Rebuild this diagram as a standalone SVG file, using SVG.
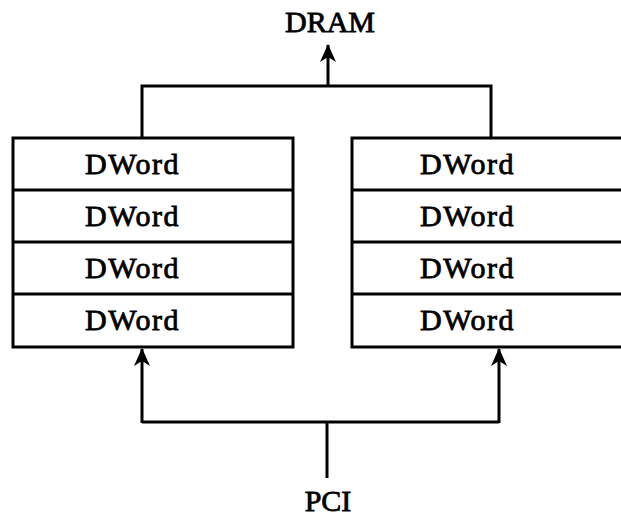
<svg xmlns="http://www.w3.org/2000/svg" width="621" height="522" viewBox="0 0 621 522">
  <style>
    .box { fill: #ffffff; stroke: #000000; stroke-width: 3; }
    .sep { stroke: #000000; stroke-width: 3; }
    .wire { fill: none; stroke: #000000; stroke-width: 3; }
    .lbl { font-family: "Liberation Serif", "Times New Roman", serif; font-size: 30px; fill: #000000; stroke: #000000; stroke-width: 0.8; }
    .dw { letter-spacing: 1.5px; }
  </style>
  <defs>
    <marker id="head" viewBox="0 0 18 16" refX="17" refY="8" markerWidth="18" markerHeight="16" markerUnits="userSpaceOnUse" orient="auto">
      <path d="M18,8 L0,0 L5,8 L0,16 Z" fill="#000000"/>
    </marker>
  </defs>

  <rect width="621" height="522" fill="#ffffff"/>

  <!-- connectors -->
  <g id="connectors">
    <!-- buffers to DRAM -->
    <polyline class="wire" points="142,138 142,86 491,86 491,138"/>
    <line class="wire" x1="328" y1="86" x2="328" y2="45" marker-end="url(#head)"/>
    <!-- PCI to buffers -->
    <line class="wire" x1="327" y1="478" x2="327" y2="422"/>
    <polyline class="wire" points="142,422 499,422"/>
    <line class="wire" x1="142" y1="423" x2="142" y2="349" marker-end="url(#head)"/>
    <line class="wire" x1="499" y1="423" x2="499" y2="349" marker-end="url(#head)"/>
  </g>

  <!-- left buffer -->
  <g id="buffer-left">
    <rect class="box" x="13" y="138" width="280" height="209"/>
    <line class="sep" x1="13" y1="190" x2="293" y2="190"/>
    <line class="sep" x1="13" y1="242" x2="293" y2="242"/>
    <line class="sep" x1="13" y1="294" x2="293" y2="294"/>
    <text class="lbl dw" x="85" y="174">DWord</text>
    <text class="lbl dw" x="85" y="226">DWord</text>
    <text class="lbl dw" x="85" y="278">DWord</text>
    <text class="lbl dw" x="85" y="330">DWord</text>
  </g>

  <!-- right buffer -->
  <g id="buffer-right">
    <rect class="box" x="352" y="138" width="280" height="209"/>
    <line class="sep" x1="352" y1="190" x2="632" y2="190"/>
    <line class="sep" x1="352" y1="242" x2="632" y2="242"/>
    <line class="sep" x1="352" y1="294" x2="632" y2="294"/>
    <text class="lbl dw" x="420" y="174">DWord</text>
    <text class="lbl dw" x="420" y="226">DWord</text>
    <text class="lbl dw" x="420" y="278">DWord</text>
    <text class="lbl dw" x="420" y="330">DWord</text>
  </g>

  <g id="dram">
    <text class="lbl" x="330" y="32" text-anchor="middle">DRAM</text>
  </g>

  <g id="pci">
    <text class="lbl" x="328" y="511" text-anchor="middle">PCI</text>
  </g>
</svg>
